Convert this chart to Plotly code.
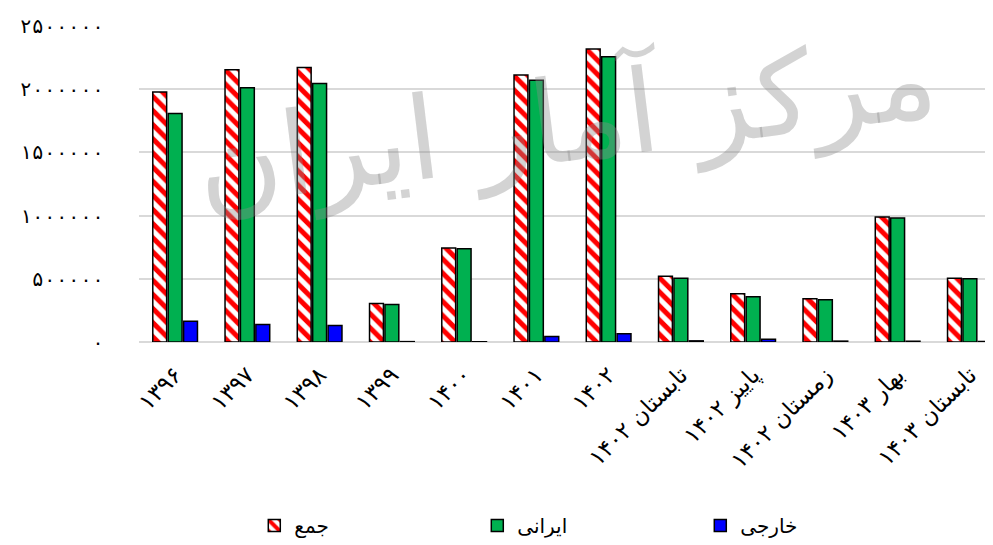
import plotly.graph_objects as go

categories = ["۱۳۹۶", "۱۳۹۷", "۱۳۹۸", "۱۳۹۹", "۱۴۰۰", "۱۴۰۱", "۱۴۰۲",
              "تابستان ۱۴۰۲", "پاییز ۱۴۰۲", "زمستان ۱۴۰۲", "بهار ۱۴۰۳", "تابستان ۱۴۰۳"]
total = [1978000, 2153000, 2172000, 304000, 743000, 2112000, 2319000,
         521000, 381000, 343000, 988000, 505000]
iranian = [1808000, 2012000, 2045000, 296000, 738000, 2071000, 2257000,
           505000, 358000, 335000, 981000, 500000]
foreign = [164000, 138000, 130000, 3000, 2000, 43000, 66000,
           9000, 22000, 7000, 6000, 4000]
series_names = ["جمع", "ایرانی", "خارجی"]
y_tickvals = [0, 500000, 1000000, 1500000, 2000000, 2500000]
y_ticktext = ["۰", "۵۰۰۰۰۰", "۱۰۰۰۰۰۰", "۱۵۰۰۰۰۰", "۲۰۰۰۰۰۰", "۲۵۰۰۰۰۰"]
watermark = "مرکز آمار ایران"

FONT = "DejaVu Sans, Noto Sans, sans-serif"

fig = go.Figure()
fig.add_trace(go.Bar(
    x=categories, y=total, name=series_names[0],
    marker=dict(color="white",
                pattern=dict(shape="\\", fgcolor="#ff0000", bgcolor="white",
                             size=10, solidity=0.5, fillmode="replace"),
                line=dict(color="black", width=1.5)),
))
fig.add_trace(go.Bar(
    x=categories, y=iranian, name=series_names[1],
    marker=dict(color="#00b050", line=dict(color="black", width=1.5)),
))
fig.add_trace(go.Bar(
    x=categories, y=foreign, name=series_names[2],
    marker=dict(color="#0000ff", line=dict(color="black", width=1.5)),
))

fig.add_annotation(
    text=watermark, xref="paper", yref="paper", x=0.5, y=0.7,
    xanchor="center", yanchor="middle",
    showarrow=False, textangle=-7,
    font=dict(family=FONT, size=115, color="rgba(140,140,140,0.38)"),
)

# page body has an 8px margin, so the figure origin sits at (8, 8)
fig.update_layout(
    width=985, height=537,
    margin=dict(l=131, r=0, t=18, b=196),
    paper_bgcolor="white", plot_bgcolor="white",
    barmode="group", bargap=0.36, bargroupgap=0.1,
    font=dict(family=FONT, size=15, color="black"),
    showlegend=True,
    legend=dict(orientation="h", x=0.135, xanchor="left", y=-0.52, yanchor="top",
                entrywidth=178, font=dict(size=20),
                traceorder="normal"),
    xaxis=dict(type="category", range=[-0.5, 11.32], tickangle=-45,
               tickfont=dict(size=23), showline=False, showgrid=False,
               ticks="", ticklabelstandoff=14, automargin=False),
    yaxis=dict(range=[0, 2500000], tickvals=y_tickvals, ticktext=y_ticktext,
               showgrid=True, gridcolor="#d9d9d9", gridwidth=1.5,
               zeroline=True, zerolinecolor="#d9d9d9", zerolinewidth=1.5,
               showline=False, ticks="", ticklabelstandoff=34,
               tickfont=dict(size=20, family="DejaVu Sans Mono, DejaVu Sans"),
               automargin=False),
)

fig.write_html("out.html")
